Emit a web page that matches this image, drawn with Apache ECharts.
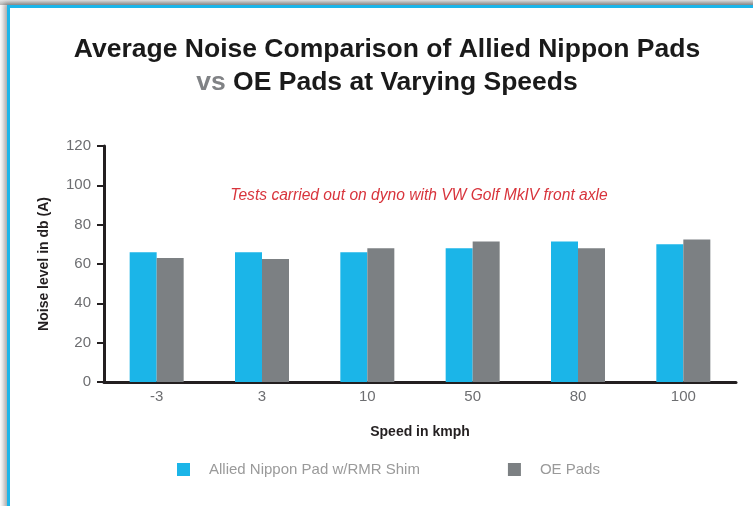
<!DOCTYPE html>
<html lang="en">
<head>
    <meta charset="UTF-8">
    <title>Average Noise Comparison</title>
    <script src="https://cdn.jsdelivr.net/npm/echarts@6/dist/echarts.min.js"></script>
    <style>
        * {
            margin: 0;
            padding: 0;
            box-sizing: border-box;
        }

        body {
            width: 753px;
            height: 506px;
            overflow: hidden;
            background: linear-gradient(to bottom, #e6e6e6, #b9b9b9 5px, #ffffff 5px);
            position: relative;
        }

        .frame {
            position: absolute;
            left: 7px;
            top: 5px;
            width: 760px;
            height: 520px;
            background: #ffffff;
            border-left: 3px solid #1cb5e9;
            border-top: 3px solid #1cb5e9;
            box-shadow: -3px -2px 5px rgba(0, 0, 0, 0.35);
        }

        #chart {
            position: absolute;
            left: 0;
            top: 0;
            width: 753px;
            height: 506px;
        }
    </style>
</head>
<body>
    <div class="frame"></div>
    <div id="chart"></div>

    <script>
        // data
        const speeds = ['-3', '3', '10', '50', '80', '100'];
        const alliedNippon = [66, 66, 66, 68, 71.5, 70];
        const oePads = [63, 62.5, 68, 71.5, 68, 72.5];
        const seriesNames = ['Allied Nippon Pad w/RMR Shim', 'OE Pads'];

        const axisColor = '#231f20';
        const font = "'Liberation Sans', Arial, sans-serif";

        const chart = echarts.init(document.getElementById('chart'), null, { renderer: 'canvas' });
        chart.setOption({
            animation: false,
            backgroundColor: 'transparent',
            textStyle: { fontFamily: font },
            grid: {
                left: 104,
                right: 17,
                top: 146,
                bottom: 124
            },
            graphic: [
                {
                    type: 'text',
                    x: 387,
                    y: 66,
                    style: {
                        text: '{a|Average Noise Comparison of Allied Nippon Pads}\n{b|vs }{a|OE Pads at Varying Speeds}',
                        align: 'center',
                        verticalAlign: 'middle',
                        rich: {
                            a: { fontSize: 26.5, fontWeight: 'bold', fill: '#1a1a1a', fontFamily: font, lineHeight: 33 },
                            b: { fontSize: 26.5, fontWeight: 'bold', fill: '#808285', fontFamily: font, lineHeight: 33 }
                        }
                    }
                },
                {
                    type: 'text',
                    x: 419,
                    y: 196,
                    style: {
                        text: 'Tests carried out on dyno with VW Golf MkIV front axle',
                        align: 'center',
                        verticalAlign: 'middle',
                        fontSize: 15.6,
                        fontStyle: 'italic',
                        fontFamily: font,
                        fill: '#d8343c'
                    }
                }
            ],
            legend: {
                left: 172,
                top: 457,
                icon: 'rect',
                itemWidth: 13,
                itemHeight: 13,
                itemGap: 88,
                textStyle: {
                    color: '#9a9a9a',
                    fontSize: 15,
                    fontFamily: font,
                    padding: [0, 0, 0, 14]
                },
                data: seriesNames
            },
            xAxis: {
                type: 'category',
                data: speeds,
                name: 'Speed in kmph',
                nameLocation: 'middle',
                nameGap: 43,
                nameTextStyle: { fontSize: 14, fontWeight: 'bold', color: axisColor },
                axisLine: { lineStyle: { color: axisColor, width: 3 } },
                axisTick: { length: 7, lineStyle: { color: axisColor, width: 2 } },
                axisLabel: { color: '#6d6e71', fontSize: 15, margin: 7 }
            },
            yAxis: {
                type: 'value',
                min: 0,
                max: 120,
                interval: 20,
                name: 'Noise level in db (A)',
                nameLocation: 'middle',
                nameGap: 53,
                nameTextStyle: { fontSize: 14, fontWeight: 'bold', color: axisColor },
                splitLine: { show: false },
                axisLine: { show: true, lineStyle: { color: axisColor, width: 3 } },
                axisTick: { show: true, length: 7, lineStyle: { color: axisColor, width: 2 } },
                axisLabel: { color: '#6d6e71', fontSize: 15, margin: 13 }
            },
            series: [
                {
                    name: seriesNames[0],
                    type: 'bar',
                    data: alliedNippon,
                    barWidth: 27,
                    barGap: '0%',
                    itemStyle: { color: '#1bb5e8' }
                },
                {
                    name: seriesNames[1],
                    type: 'bar',
                    data: oePads,
                    barWidth: 27,
                    barGap: '0%',
                    itemStyle: { color: '#7c8083' }
                }
            ]
        });

        window.addEventListener('resize', function() {
            chart.resize();
        });
    </script>
</body>
</html>
